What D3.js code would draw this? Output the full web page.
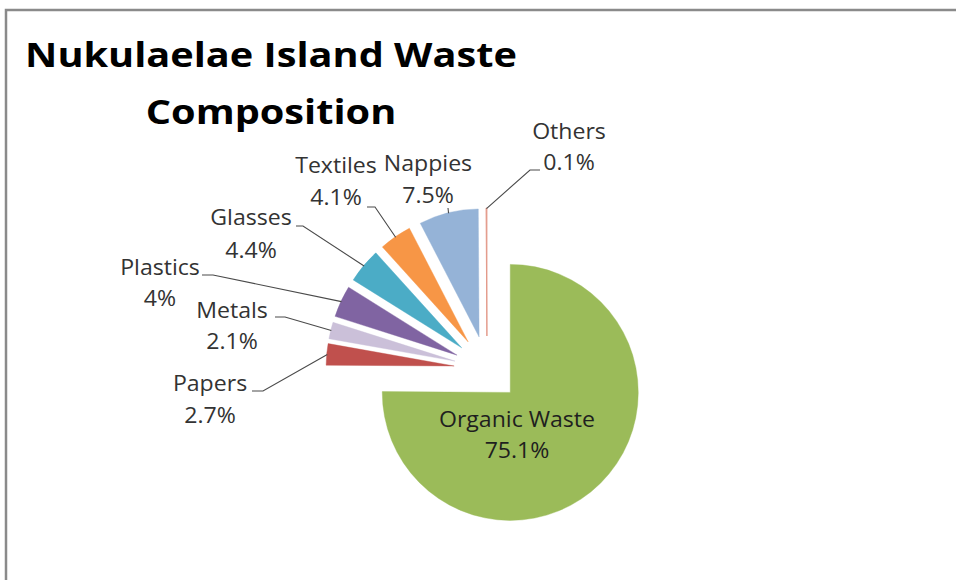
<!DOCTYPE html>
<html><head><meta charset="utf-8">
<script src="https://cdn.jsdelivr.net/npm/d3@7"></script>
<style>body{margin:0;background:#fff;overflow:hidden}</style>
</head><body>
<svg id="chart" width="956" height="580"></svg>
<script>
// ---- data ----
const categories = ["Organic Waste","Papers","Metals","Plastics","Glasses","Textiles","Nappies","Others"];
const values = [75.1, 2.7, 2.1, 4, 4.4, 4.1, 7.5, 0.1];
const valueLabels = ["75.1%","2.7%","2.1%","4%","4.4%","4.1%","7.5%","0.1%"];
const colors = ["#9BBB59","#C0504D","#CBC0D9","#8064A2","#4BACC6","#F79646","#95B3D7","#E39A8A"];
const titleLines = ["Nukulaelae Island Waste","Composition"];

// ---- layout (annotation placement, not data) ----
const cx = 487, cy = 369, R = 128, explode = 33;
const labelLayout = [
  {x:517, y1:427, y2:458, inside:true},
  {x:210, y1:391, y2:423, elbow:[263,391], end:[252,391]},
  {x:232, y1:318, y2:349, elbow:[285,317], end:[275,317]},
  {x:160, y1:275, y2:306, elbow:[213,275], end:[202,275]},
  {x:251, y1:225, y2:258, elbow:[303,226], end:[296,226]},
  {x:336, y1:173, y2:205, elbow:[375,207], end:[367,207]},
  {x:428, y1:171, y2:203, elbow:[448,208], end:[448,208]},
  {x:569, y1:139, y2:170, elbow:[530,170], end:[540,170]}
];

const svg = d3.select("#chart");
svg.append("rect").attr("x",0).attr("y",0).attr("width",956).attr("height",580).attr("fill","#fff");
svg.append("rect").attr("x",6).attr("y",10).attr("width",1000).attr("height",650)
  .attr("fill","#fff").attr("stroke","#8a8a8a").attr("stroke-width",2.5);

const pie = d3.pie().sort(null).value(d => d)(values);
const arc = d3.arc().innerRadius(0).outerRadius(R);

const g = svg.append("g").attr("transform",`translate(${cx},${cy})`);
pie.forEach((p,i) => {
  const mid = (p.startAngle + p.endAngle)/2;
  const dx = Math.sin(mid)*explode, dy = -Math.cos(mid)*explode;
  g.append("path").attr("d", arc(p))
    .attr("transform",`translate(${dx},${dy})`)
    .attr("fill", colors[i])
    .attr("stroke", colors[i]).attr("stroke-width", i===7 ? 1 : 0.4);
  const L = labelLayout[i];
  if (!L.inside) {
    const ax = cx + dx + Math.sin(mid)*R*0.995, ay = cy + dy - Math.cos(mid)*R*0.995;
    svg.append("polyline")
      .attr("points", [[ax,ay], L.elbow, L.end].map(q=>q.join(",")).join(" "))
      .attr("fill","none").attr("stroke","#4a4a4a").attr("stroke-width",1.1);
  }
});

labelLayout.forEach((L,i) => {
  const fill = L.inside ? "#1f1f1f" : "#333";
  [[categories[i], L.y1],[valueLabels[i], L.y2]].forEach(([t,y]) => {
    svg.append("text").text(t)
      .attr("transform",`translate(${L.x},${y}) scale(1.1,1)`)
      .attr("text-anchor","middle")
      .attr("font-family","'Open Sans', sans-serif")
      .attr("font-size",21).attr("fill",fill);
  });
});

const titleY = [67, 124];
const tnodes = titleLines.map((t,i) => svg.append("text").text(t)
  .attr("text-anchor","middle")
  .attr("font-family","'Open Sans', sans-serif").attr("font-weight","bold")
  .attr("font-size",34).attr("fill","#000"));
const w0 = tnodes[0].node().getComputedTextLength();
const s = 492 / w0;
tnodes.forEach((n,i) => n.attr("transform",`translate(271,${titleY[i]}) scale(${s},1)`));
</script>
</body></html>
